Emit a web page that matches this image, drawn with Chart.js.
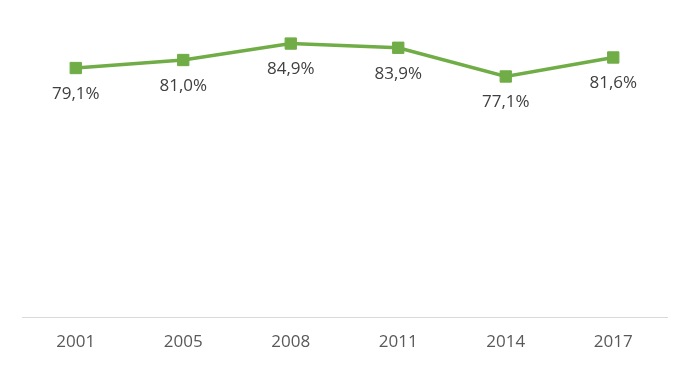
<!DOCTYPE html>
<html>
<head>
<meta charset="utf-8">
<script src="https://cdn.jsdelivr.net/npm/chart.js@4/dist/chart.umd.min.js"></script>
<style>
  html, body { margin: 0; padding: 0; background: #fff; }
  #wrap { width: 690px; height: 366px; }
</style>
</head>
<body>
<div id="wrap"><canvas id="lineChart" width="690" height="366"></canvas></div>
<script>
const years = ['2001', '2005', '2008', '2011', '2014', '2017'];
const shares = [79.1, 81.0, 84.9, 83.9, 77.1, 81.6];

// labels under each point, like Excel data labels
const pointLabels = {
    id: 'pointLabels',
    afterDatasetsDraw(chart) {
        const ctx = chart.ctx;
        const meta = chart.getDatasetMeta(0);
        ctx.save();
        ctx.font = '17px "Open Sans", sans-serif';
        ctx.fillStyle = '#404040';
        ctx.textAlign = 'center';
        ctx.textBaseline = 'middle';
        meta.data.forEach((pt, i) => {
            const txt = shares[i].toFixed(1).replace('.', ',') + '%';
            ctx.fillText(txt, pt.x, pt.y + 26);
        });
        ctx.restore();
    }
};

const ctx = document.getElementById('lineChart').getContext('2d');
new Chart(ctx, {
    type: 'line',
    data: {
        labels: years,
        datasets: [{
            data: shares,
            borderColor: '#70AD47',
            backgroundColor: '#70AD47',
            borderWidth: 3.5,
            pointStyle: 'rect',
            pointRadius: 8,
            pointBorderWidth: 1,
            fill: false,
            tension: 0
        }]
    },
    options: {
        responsive: false,
        animation: false,
        layout: { padding: { left: 22, right: 23, top: 22, bottom: 0 } },
        plugins: {
            legend: { display: false },
            tooltip: { enabled: false }
        },
        scales: {
            x: {
                offset: true,
                grid: { display: false, drawTicks: false },
                border: { display: true, color: '#d9d9d9', width: 1 },
                ticks: {
                    color: '#595959',
                    padding: 14,
                    font: { family: '"Open Sans", sans-serif', size: 17 }
                }
            },
            y: {
                display: false,
                min: 20,
                max: 90
            }
        }
    },
    plugins: [pointLabels]
});
</script>
</body>
</html>
